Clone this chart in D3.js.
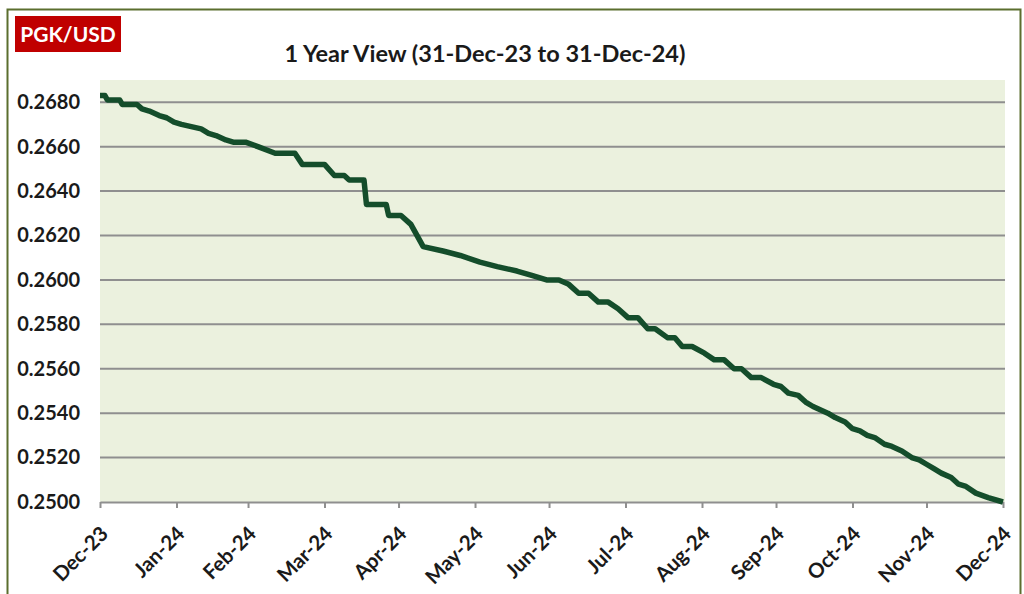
<!DOCTYPE html>
<html>
<head>
<meta charset="utf-8">
<script src="https://cdn.jsdelivr.net/npm/d3@7"></script>
<style>
  html, body { margin: 0; padding: 0; background: #ffffff; }
  svg { display: block; }
  text { font-family: Lato, "Open Sans", "Liberation Sans", sans-serif; font-weight: bold; }
</style>
</head>
<body>
<svg id="chart" width="1024" height="594"></svg>
<script>
// ---------- data ----------
const dates = [
  "2023-12-31","2024-01-02","2024-01-03","2024-01-08","2024-01-09","2024-01-15",
  "2024-01-17","2024-01-20","2024-01-24","2024-01-27","2024-01-30","2024-02-02",
  "2024-02-06","2024-02-10","2024-02-13","2024-02-16","2024-02-20","2024-02-23",
  "2024-02-28","2024-03-04","2024-03-11","2024-03-19","2024-03-22","2024-03-31",
  "2024-04-04","2024-04-08","2024-04-10","2024-04-16","2024-04-17","2024-04-25",
  "2024-04-26","2024-05-01","2024-05-05","2024-05-10","2024-05-18","2024-05-25",
  "2024-06-02","2024-06-09","2024-06-17","2024-06-23","2024-06-29","2024-07-04",
  "2024-07-08","2024-07-12","2024-07-16","2024-07-20","2024-07-24","2024-07-28",
  "2024-08-01","2024-08-05","2024-08-09","2024-08-12","2024-08-17","2024-08-20",
  "2024-08-23","2024-08-27","2024-09-01","2024-09-05","2024-09-09","2024-09-13",
  "2024-09-16","2024-09-20","2024-09-24","2024-09-29","2024-10-02","2024-10-05",
  "2024-10-09","2024-10-12","2024-10-15","2024-10-17","2024-10-21","2024-10-24",
  "2024-10-28","2024-10-31","2024-11-03","2024-11-06","2024-11-09","2024-11-13",
  "2024-11-16","2024-11-20","2024-11-24","2024-11-27","2024-11-30","2024-12-03",
  "2024-12-06","2024-12-10","2024-12-13","2024-12-16","2024-12-20","2024-12-25",
  "2024-12-31"
];
const rates = [
  0.2683,0.2683,0.2681,0.2681,0.2679,0.2679,
  0.2677,0.2676,0.2674,0.2673,0.2671,0.2670,
  0.2669,0.2668,0.2666,0.2665,0.2663,0.2662,
  0.2662,0.2660,0.2657,0.2657,0.2652,0.2652,
  0.2647,0.2647,0.2645,0.2645,0.2634,0.2634,
  0.2629,0.2629,0.2625,0.2615,0.2613,0.2611,
  0.2608,0.2606,0.2604,0.2602,0.2600,0.2600,
  0.2598,0.2594,0.2594,0.2590,0.2590,0.2587,
  0.2583,0.2583,0.2578,0.2578,0.2574,0.2574,
  0.2570,0.2570,0.2567,0.2564,0.2564,0.2560,
  0.2560,0.2556,0.2556,0.2553,0.2552,0.2549,
  0.2548,0.2545,0.2543,0.2542,0.2540,0.2538,
  0.2536,0.2533,0.2532,0.2530,0.2529,0.2526,
  0.2525,0.2523,0.2520,0.2519,0.2517,0.2515,
  0.2513,0.2511,0.2508,0.2507,0.2504,0.2502,
  0.2500
];
const yTicks = [0.2500,0.2520,0.2540,0.2560,0.2580,0.2600,0.2620,0.2640,0.2660,0.2680];
const xTickDates = [
  "2023-12-31","2024-01-31","2024-02-29","2024-03-31","2024-04-30","2024-05-31",
  "2024-06-30","2024-07-31","2024-08-31","2024-09-30","2024-10-31","2024-11-30","2024-12-31"
];
const yDomain = [0.2500, 0.2690];
const dateDomain = ["2023-12-31", "2024-12-31"];
const badgeText = "PGK/USD";
const titleText = "1 Year View (31-Dec-23 to 31-Dec-24)";

// ---------- layout ----------
const parse = d3.utcParse("%Y-%m-%d");
const svg = d3.select("#chart");
const plot = { left: 100, right: 1003, top: 80, bottom: 502 };

// outer frame
svg.append("rect")
  .attr("x", 7.5).attr("y", 9.5).attr("width", 1013).attr("height", 600)
  .attr("fill", "#ffffff").attr("stroke", "#5b6e2e").attr("stroke-width", 2);

const x = d3.scaleUtc().domain(dateDomain.map(parse)).range([plot.left, plot.right]);
const y = d3.scaleLinear().domain(yDomain).range([plot.bottom, plot.top]);

// plot background
svg.append("rect")
  .attr("x", plot.left).attr("y", plot.top)
  .attr("width", plot.right - plot.left + 2).attr("height", plot.bottom - plot.top)
  .attr("fill", "#ebf1de");

// gridlines
svg.append("g").selectAll("line")
  .data(yTicks.filter(v => v > yDomain[0]))
  .join("line")
  .attr("x1", plot.left).attr("x2", plot.right + 2)
  .attr("y1", d => y(d)).attr("y2", d => y(d))
  .attr("stroke", "#8f8f8f").attr("stroke-width", 2);

// y axis labels
const yAxis = svg.append("g")
  .attr("transform", `translate(${plot.left},0)`)
  .call(d3.axisLeft(y).tickValues(yTicks).tickFormat(d3.format(".4f")).tickSize(0).tickPadding(20));
yAxis.select(".domain").remove();
yAxis.selectAll("text")
  .attr("font-size", 20).attr("fill", "#1a1a1a")
  .style("font-family", "Lato, 'Open Sans', sans-serif").style("font-weight", "bold");

// x axis
const xAxis = svg.append("g")
  .attr("transform", `translate(0,${plot.bottom})`)
  .call(d3.axisBottom(x).tickValues(xTickDates.map(parse)).tickFormat(d3.utcFormat("%b-%y")).tickSize(6).tickSizeOuter(0));
xAxis.select(".domain").attr("stroke", "#8f8f8f").attr("stroke-width", 2);
xAxis.selectAll(".tick line").attr("stroke", "#8f8f8f").attr("stroke-width", 2);
xAxis.selectAll("text")
  .attr("font-size", 20.5).attr("fill", "#1a1a1a")
  .style("font-family", "Lato, 'Open Sans', sans-serif").style("font-weight", "bold")
  .attr("text-anchor", "end")
  .attr("dy", null).attr("y", null)
  .attr("transform", "translate(9,33) rotate(-45)");

// line
const series = dates.map((d, i) => ({ date: parse(d), value: rates[i] }));
svg.append("path")
  .datum(series)
  .attr("fill", "none")
  .attr("stroke", "#144d2b")
  .attr("stroke-width", 5.5)
  .attr("stroke-linejoin", "round")
  .attr("stroke-linecap", "butt")
  .attr("d", d3.line().x(d => x(d.date)).y(d => y(d.value)));

// badge
svg.append("rect")
  .attr("x", 15).attr("y", 16).attr("width", 106).attr("height", 36)
  .attr("fill", "#c00000");
svg.append("text")
  .attr("x", 68).attr("y", 42).attr("text-anchor", "middle")
  .attr("font-size", 21).attr("fill", "#ffffff")
  .text(badgeText);

// title
svg.append("text")
  .attr("x", 485).attr("y", 62).attr("text-anchor", "middle")
  .attr("font-size", 23.5).attr("fill", "#1a1a1a")
  .text(titleText);
</script>
</body>
</html>
